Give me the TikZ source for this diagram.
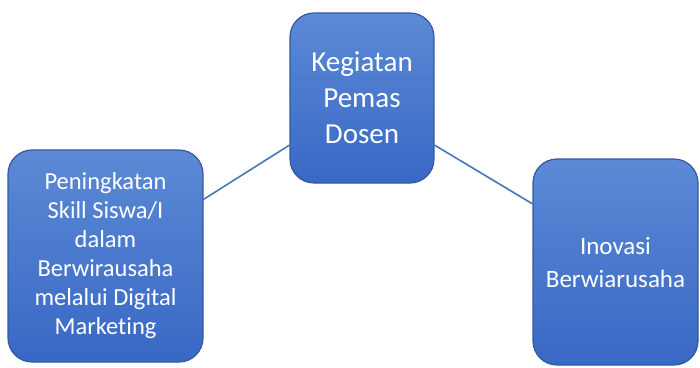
\documentclass[tikz,border=0pt]{standalone}
\usepackage{fontspec}
\setmainfont{Carlito}[Ligatures=NoCommon]
\definecolor{boxtop}{RGB}{92,138,214}
\definecolor{boxbot}{RGB}{56,104,196}
\definecolor{boxedge}{RGB}{52,88,160}
\definecolor{linkc}{RGB}{70,118,184}
\tikzset{
  box/.style={rectangle, rounded corners=24pt, draw=boxedge, line width=1.2pt,
    top color=boxtop, bottom color=boxbot, text=white, align=center,
    inner sep=0pt},
  link/.style={draw=linkc, line width=1.6pt}
}
\begin{document}
\begin{tikzpicture}[x=1pt,y=-1pt]
\useasboundingbox (0,0) rectangle (700,367);
\node[box, minimum width=144pt, minimum height=170pt,
  font=\fontsize{29}{36}\selectfont] (top) at (362,98)
  {Kegiatan\\Pemas\\Dosen};
\node[box, minimum width=195pt, minimum height=212pt,
  font=\fontsize{24.5}{29}\selectfont] (left) at (105.5,256)
  {Peningkatan\\Skill Siswa/I\\dalam\\Berwirausaha\\melalui Digital\\Marketing};
\node[box, minimum width=165pt, minimum height=206pt,
  font=\fontsize{25}{33}\selectfont] (right) at (615.5,262)
  {Inovasi\\Berwiarusaha};
\draw[link] (top.213) -- (left.30);
\draw[link] (top.-33) -- (right.145.4);
\end{tikzpicture}
\end{document}
